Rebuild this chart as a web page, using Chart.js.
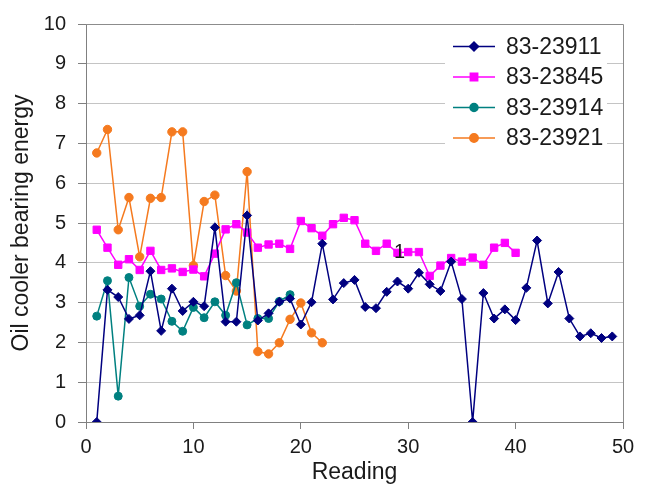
<!DOCTYPE html>
<html>
<head>
<meta charset="utf-8">
<script src="https://cdn.jsdelivr.net/npm/chart.js@4/dist/chart.umd.min.js"></script>
<style>
  html, body { margin: 0; padding: 0; background: #fff; }
  #wrap { width: 650px; height: 492px; }
</style>
</head>
<body>
<div id="wrap"><canvas id="myChart" width="650" height="492"></canvas></div>
<script>
// series values, reading number = index + 1
const labels = ['83-23911', '83-23845', '83-23914', '83-23921']
const s23911 = [0, 3.32, 3.14, 2.59, 2.68, 3.79, 2.29, 3.35, 2.79, 3.02, 2.91, 4.89, 2.52, 2.52, 5.19, 2.55, 2.73, 3.02, 3.1, 2.45,
  3.01, 4.48, 3.08, 3.49, 3.57, 2.89, 2.86, 3.27, 3.53, 3.35, 3.75, 3.46, 3.29, 4.03, 3.09, 0, 3.24, 2.6, 2.83, 2.56,
  3.37, 4.56, 2.98, 3.77, 2.6, 2.15, 2.23, 2.11, 2.15]
const s23845 = [4.83, 4.38, 3.95, 4.09, 3.82, 4.3, 3.82, 3.86, 3.77, 3.83, 3.66, 4.23, 4.84, 4.97, 4.76, 4.38, 4.46, 4.48, 4.35, 5.05,
  4.87, 4.68, 4.97, 5.13, 5.07, 4.48, 4.3, 4.48, 4.25, 4.27, 4.27, 3.67, 3.93, 4.12, 4.03, 4.13, 3.95, 4.38, 4.5, 4.25]
const s23914 = [2.66, 3.55, 0.65, 3.63, 2.91, 3.21, 3.09, 2.53, 2.28, 2.88, 2.62, 3.02, 2.68, 3.5, 2.44, 2.6, 2.6, 3.03, 3.2]
const s23921 = [6.76, 7.35, 4.83, 5.64, 4.15, 5.62, 5.64, 7.29, 7.29, 3.93, 5.54, 5.7, 3.68, 3.29, 6.29, 1.77, 1.71, 1.99, 2.58, 2.99,
  2.24, 1.99]
const xTicks = [0, 10, 20, 30, 40, 50]
const yTicks = [0, 1, 2, 3, 4, 5, 6, 7, 8, 9, 10]

const colors = ['#000080', '#ff00ff', '#008080', '#f57a1f']
const styles = ['rectRot', 'rect', 'circle', 'circle']
const radii = [4.5, 5.2, 4, 4.2]

const toPoints = (arr) => arr.map((v, i) => ({ x: i + 1, y: v }))
const allSeries = [s23911, s23845, s23914, s23921]

const datasets = allSeries.map((arr, i) => ({
  label: labels[i],
  data: toPoints(arr),
  showLine: true,
  borderColor: colors[i],
  backgroundColor: colors[i],
  borderWidth: 1.5,
  pointStyle: styles[i],
  pointRadius: radii[i],
  pointBorderWidth: 1,
  pointBorderColor: colors[i],
  pointBackgroundColor: colors[i],
  tension: 0
}))

const FONT = "'Liberation Sans', Arial, sans-serif"

// box around the plot area
const frame = {
  id: 'frame',
  beforeDatasetsDraw(chart) {
    const { ctx, chartArea: a } = chart
    ctx.save()
    ctx.strokeStyle = '#8c8c8c'
    ctx.lineWidth = 1
    ctx.beginPath()
    ctx.moveTo(a.left, a.top + 0.5)
    ctx.lineTo(a.right + 0.5, a.top + 0.5)
    ctx.lineTo(a.right + 0.5, a.bottom)
    ctx.stroke()
    ctx.restore()
  }
}

// legend inside the plot, top right
const innerLegend = {
  id: 'innerLegend',
  afterDatasetsDraw(chart) {
    const { ctx } = chart
    const sx = chart.scales.x, sy = chart.scales.y
    ctx.save()
    ctx.fillStyle = '#fff'
    ctx.fillRect(445, 26, 162, 134)
    ctx.font = '23px ' + FONT
    ctx.textBaseline = 'middle'
    ctx.textAlign = 'left'
    const rows = [46.5, 77, 107.5, 138]
    chart.data.datasets.forEach((ds, i) => {
      const y = rows[i]
      ctx.strokeStyle = ds.borderColor
      ctx.lineWidth = 1.5
      ctx.beginPath()
      ctx.moveTo(453, y)
      ctx.lineTo(495, y)
      ctx.stroke()
      ctx.fillStyle = ds.backgroundColor
      Chart.helpers.drawPoint(ctx, { pointStyle: ds.pointStyle, radius: ds.pointRadius, rotation: 0, borderWidth: 1 }, 474, y)
      ctx.fillStyle = '#1a1a1a'
      ctx.fillText(ds.label, 506, y + 1)
    })
    // stray data label in the original picture
    ctx.font = '20px ' + FONT
    ctx.textAlign = 'center'
    ctx.fillStyle = '#1a1a1a'
    ctx.fillText('1', sx.getPixelForValue(29.2), sy.getPixelForValue(4.25))
    ctx.restore()
  }
}

window.onload = () => {
  const ctx = document.getElementById('myChart')
  new Chart(ctx, {
    type: 'scatter',
    data: { datasets },
    options: {
      responsive: false,
      animation: false,
      layout: { padding: { top: 13, right: 27, bottom: 0, left: 0 } },
      plugins: { legend: { display: false }, tooltip: { enabled: false } },
      scales: {
        x: {
          type: 'linear',
          min: 0, max: 50,
          afterBuildTicks: (s) => { s.ticks = xTicks.map(v => ({ value: v })) },
          afterFit: (s) => { s.height = 70 },
          grid: { drawOnChartArea: false, color: '#808080', tickLength: 7 },
          border: { color: '#808080', width: 1 },
          ticks: { color: '#1a1a1a', font: { size: 20, family: FONT }, padding: 6 },
          title: { display: true, text: 'Reading', color: '#1a1a1a', font: { size: 23, family: FONT }, padding: { top: 0, bottom: 6 } }
        },
        y: {
          min: 0, max: 10,
          afterBuildTicks: (s) => { s.ticks = yTicks.map(v => ({ value: v })) },
          afterFit: (s) => { s.width = 86 },
          grid: { color: '#c4c4c4', tickColor: '#808080', tickLength: 8 },
          border: { color: '#808080', width: 1 },
          ticks: { color: '#1a1a1a', font: { size: 20, family: FONT }, padding: 12 },
          title: { display: true, text: 'Oil cooler bearing energy', color: '#1a1a1a', font: { size: 23, family: FONT }, padding: { top: 8, bottom: 0 } }
        }
      }
    },
    plugins: [frame, innerLegend]
  })
}
</script>
</body>
</html>
